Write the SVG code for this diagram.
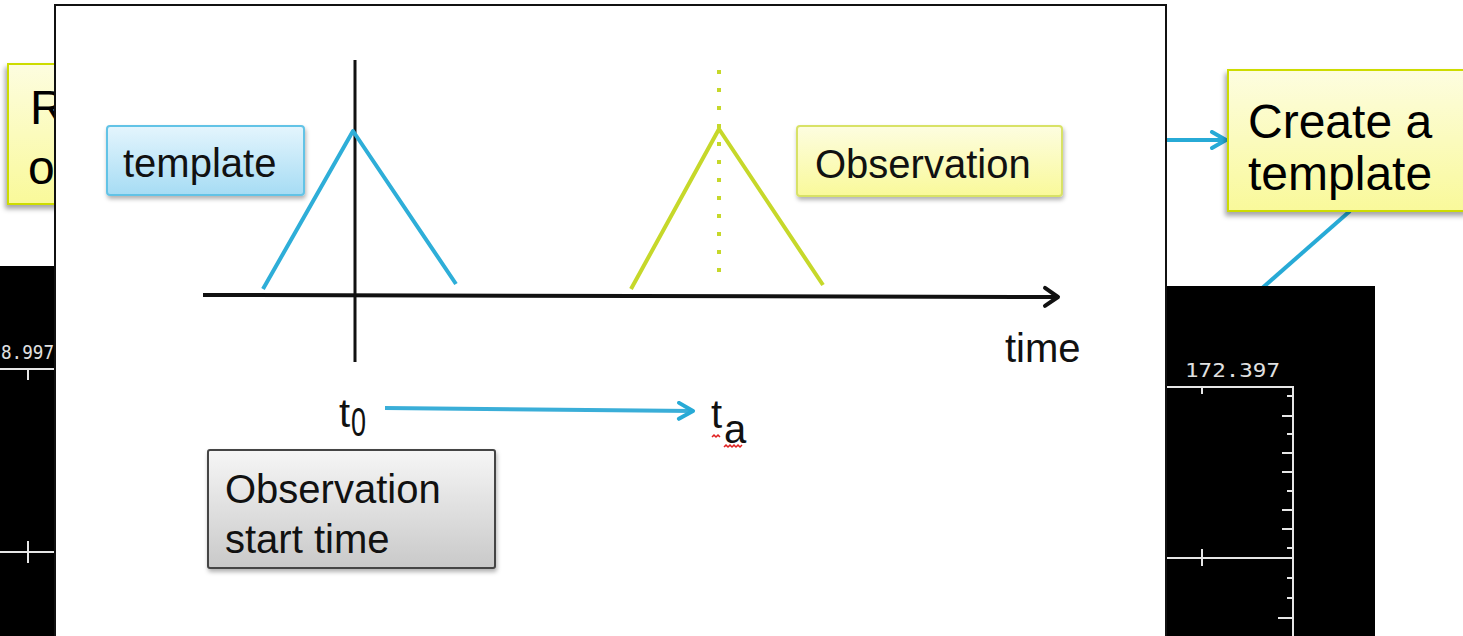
<svg xmlns="http://www.w3.org/2000/svg" width="1463" height="636" viewBox="0 0 1463 636">
<defs>
<linearGradient id="gYellow" x1="0" y1="0" x2="0" y2="1"><stop offset="0" stop-color="#fdfde0"/><stop offset="1" stop-color="#f9f99a"/></linearGradient>
<linearGradient id="gBlue" x1="0" y1="0" x2="0" y2="1"><stop offset="0" stop-color="#e4f5fd"/><stop offset="1" stop-color="#a6dcf4"/></linearGradient>
<linearGradient id="gGray" x1="0" y1="0" x2="0" y2="1"><stop offset="0" stop-color="#f6f6f6"/><stop offset="1" stop-color="#c9c9c9"/></linearGradient>
<filter id="sh" x="-10%" y="-10%" width="125%" height="130%"><feDropShadow dx="-2" dy="4" stdDeviation="2.5" flood-color="#000" flood-opacity="0.35"/></filter>
<filter id="sh2" x="-10%" y="-10%" width="125%" height="130%"><feDropShadow dx="1" dy="3" stdDeviation="2" flood-color="#000" flood-opacity="0.3"/></filter>
<marker id="chevBlue" viewBox="0 0 20 20" refX="17" refY="10" markerWidth="20" markerHeight="20" markerUnits="userSpaceOnUse" orient="auto"><path d="M3,2 L17,10 L3,18" fill="none" stroke="#27aad6" stroke-width="4" stroke-linecap="round" stroke-linejoin="round"/></marker>
<marker id="chevBlack" viewBox="0 0 20 24" refX="17" refY="12" markerWidth="20" markerHeight="24" markerUnits="userSpaceOnUse" orient="auto"><path d="M4,3 L17,12 L4,21" fill="none" stroke="#111" stroke-width="4" stroke-linecap="round" stroke-linejoin="round"/></marker>
</defs>
<style>
.big{font-family:"Liberation Sans",Arial,sans-serif;font-size:48px;fill:#000}
.lbl{font-family:"Liberation Sans",Arial,sans-serif;font-size:40px;fill:#111}
.mono{font-family:"DejaVu Sans Mono","Liberation Mono",monospace;font-size:19px;fill:#e0e0e0}
.wl{stroke:#e6e6e6;stroke-width:2;fill:none}
.ybox{fill:url(#gYellow);stroke:#cddc00;stroke-width:2}
</style>
<rect width="1463" height="636" fill="#fff"/>

<!-- left yellow box (behind panel) -->
<g id="left-box">
<rect class="ybox" x="8" y="64" width="120" height="140" filter="url(#sh)"/>
<text class="big" x="30" y="124">R</text>
<text class="big" x="28" y="184">o</text>
</g>

<!-- left black plot -->
<g id="left-plot">
<rect x="0" y="266" width="57" height="370" fill="#000"/>
<text class="mono" x="1" y="359" textLength="53" lengthAdjust="spacingAndGlyphs">8.997</text>
<path class="wl" d="M0,369 H54 M28,369 V380 M0,552 H54 M28,541 V563"/>
</g>

<!-- connectors outside panel -->
<g id="connectors">
<line x1="1167" y1="140" x2="1226" y2="140" stroke="#27aad6" stroke-width="4" marker-end="url(#chevBlue)"/>
<line x1="1350" y1="211" x2="1260" y2="290" stroke="#27aad6" stroke-width="4"/>
</g>

<!-- right black plot -->
<g id="right-plot">
<rect x="1166" y="286" width="209" height="350" fill="#000"/>
<text class="mono" x="1185" y="377" textLength="95" lengthAdjust="spacingAndGlyphs">172.397</text>
<path class="wl" d="M1167,387 H1293 V636 M1202,387 V394 M1167,558 H1293 M1202,549 V566
M1287,396 H1293 M1282,416 H1293 M1287,434 H1293 M1282,453 H1293 M1282,472 H1293 M1287,491 H1293 M1282,510 H1293 M1282,529 H1293 M1287,548 H1293 M1287,578 H1293 M1287,598 H1293 M1278,618 H1293"/>
</g>

<!-- create a template box -->
<g id="create-template">
<rect class="ybox" x="1228" y="70" width="240" height="141" filter="url(#sh)"/>
<text class="big" x="1248" y="138">Create a</text>
<text class="big" x="1248" y="190">template</text>
</g>

<!-- main panel -->
<g id="main-panel">
<rect x="55" y="5" width="1111" height="640" fill="#fff" stroke="#111" stroke-width="2"/>

<g id="axes">
<line x1="203" y1="295" x2="1058" y2="297" stroke="#111" stroke-width="4" marker-end="url(#chevBlack)"/>
<line x1="355" y1="60" x2="355" y2="362" stroke="#111" stroke-width="3"/>
<text class="lbl" x="1005" y="362">time</text>
</g>

<g id="template-pulse">
<polyline points="263,289 353,131 456,284" fill="none" stroke="#2eaed8" stroke-width="4" stroke-linejoin="round"/>
</g>
<g id="observation-pulse">
<polyline points="631,289 719,129 823,285" fill="none" stroke="#c6d82a" stroke-width="4" stroke-linejoin="round"/>
<line x1="719" y1="70" x2="719" y2="280" stroke="#c6d82a" stroke-width="4" stroke-dasharray="4 14"/>
</g>

<g id="template-label">
<rect x="107" y="126" width="197" height="69" rx="3" fill="url(#gBlue)" stroke="#62c3e6" stroke-width="2" filter="url(#sh2)"/>
<text class="lbl" x="123" y="177">template</text>
</g>

<g id="observation-label">
<rect x="797" y="126" width="265" height="70" rx="3" fill="url(#gYellow)" stroke="#d8e266" stroke-width="2" filter="url(#sh2)"/>
<text class="lbl" x="815" y="178">Observation</text>
</g>

<g id="t0">
<text class="lbl" x="339" y="427">t</text>
<text class="lbl" x="351" y="436" font-size="26px" textLength="15" lengthAdjust="spacingAndGlyphs">0</text>
</g>
<g id="ta">
<text class="lbl" x="711" y="428">t</text>
<text class="lbl" x="724" y="443" font-size="24px" fill="#1a2a6a">a</text>
<path d="M712,437 l2,-2 l2,2 l2,-2 l2,2 M724,447 l2,-2 l2,2 l2,-2 l2,2 l2,-2 l2,2 l2,-2 l2,2 l2,-2" fill="none" stroke="#e02020" stroke-width="1.5"/>
</g>
<line id="t0-ta" x1="385" y1="408" x2="693" y2="411" stroke="#3aaed8" stroke-width="4" marker-end="url(#chevBlue)"/>

<g id="start-time-box">
<rect x="208" y="450" width="287" height="118" rx="2" fill="url(#gGray)" stroke="#444" stroke-width="2" filter="url(#sh2)"/>
<text class="lbl" x="225" y="503">Observation</text>
<text class="lbl" x="225" y="553">start time</text>
</g>
</g>
</svg>
